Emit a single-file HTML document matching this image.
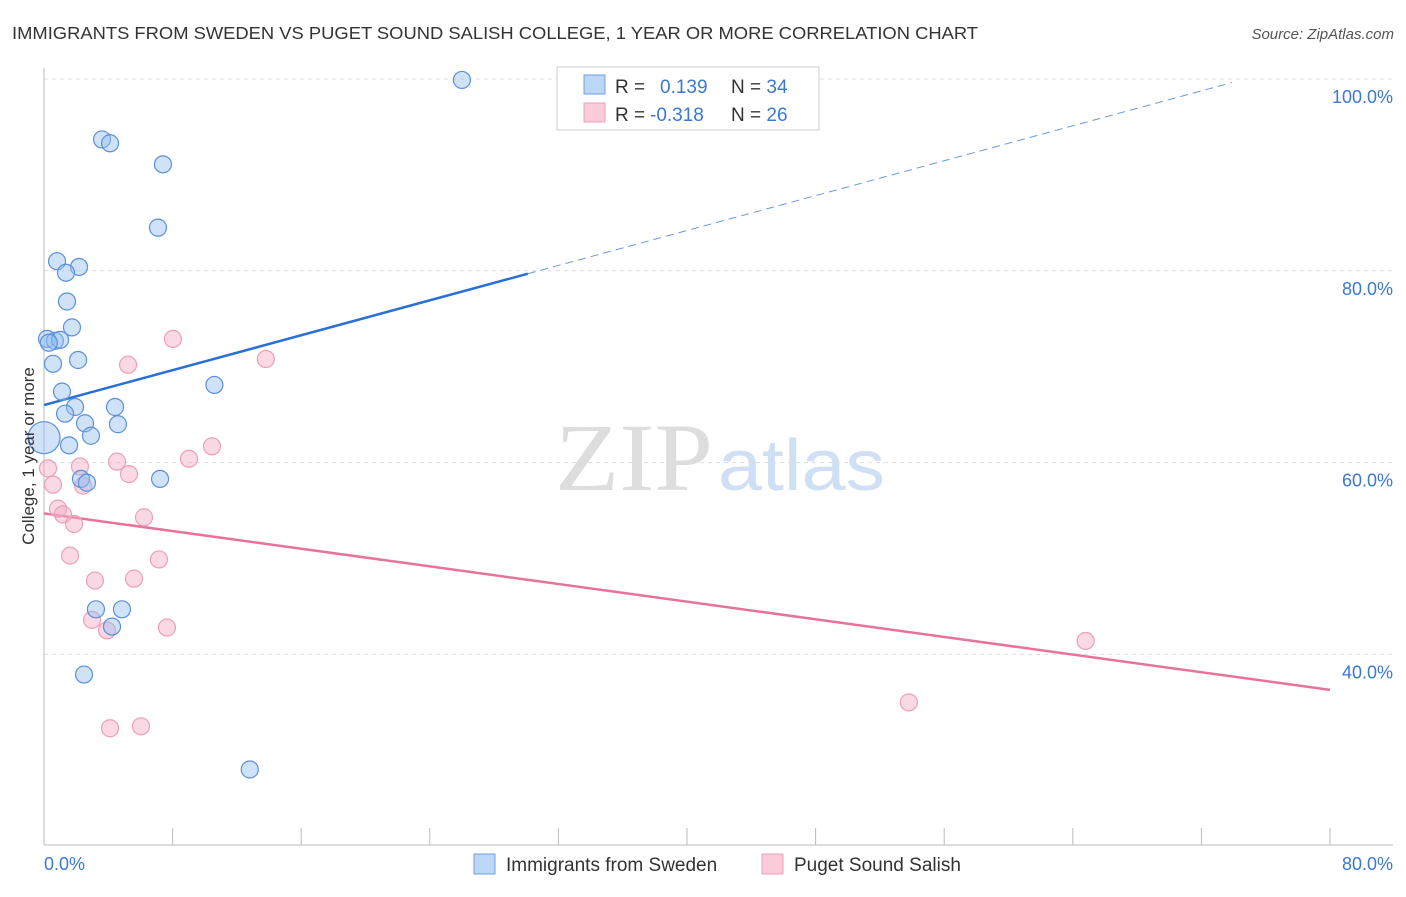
<!DOCTYPE html>
<html><head><meta charset="utf-8"><style>
body{margin:0;background:#fff;font-family:"Liberation Sans",sans-serif}
</style></head><body>
<svg width="1406" height="892" xmlns="http://www.w3.org/2000/svg" style="font-family:'Liberation Sans',sans-serif">
<text x="12" y="39" font-size="17.5" fill="#333" textLength="966" lengthAdjust="spacingAndGlyphs">IMMIGRANTS FROM SWEDEN VS PUGET SOUND SALISH COLLEGE, 1 YEAR OR MORE CORRELATION CHART</text>
<text x="1394" y="39" font-size="15" fill="#555" font-style="italic" text-anchor="end">Source: ZipAtlas.com</text>
<text x="555" y="490" font-size="96" fill="#ddd" textLength="158" lengthAdjust="spacingAndGlyphs" font-family="Liberation Serif,serif">ZIP</text>
<text x="718" y="490" font-size="72" fill="#cfe0f4" textLength="167" lengthAdjust="spacingAndGlyphs">atlas</text>
<g id="grid"></g><g id="axes"></g><g id="trend"></g><g id="pts"></g>
<text transform="translate(34,456) rotate(-90)" font-size="17" fill="#333" text-anchor="middle">College, 1 year or more</text>
<g>
<rect x="557" y="67" width="262" height="63" fill="#fff" stroke="#ccc"/>
<rect x="584" y="75" width="21" height="19" fill="#bcd6f5" stroke="#6fa0e0"/>
<rect x="584" y="103" width="21" height="19" fill="#fbcbd9" stroke="#eba0b8"/>
<text x="615" y="93" font-size="19" fill="#333">R = <tspan fill="#3a78d4" x="660">0.139</tspan><tspan fill="#333" x="731">N = </tspan><tspan fill="#3a78d4">34</tspan></text>
<text x="615" y="121" font-size="19" fill="#333">R = <tspan fill="#3a78d4" x="650">-0.318</tspan><tspan fill="#333" x="731">N = </tspan><tspan fill="#3a78d4">26</tspan></text>
</g>
<g>
<rect x="474" y="854" width="21" height="20" fill="#bcd6f5" stroke="#6fa0e0"/>
<text x="506" y="871" font-size="19" fill="#333">Immigrants from Sweden</text>
<rect x="762" y="854" width="21" height="20" fill="#fbcbd9" stroke="#eba0b8"/>
<text x="794" y="871" font-size="19" fill="#333">Puget Sound Salish</text>
</g>
</svg>
<script>
const yTicks=[40,60,80,100];
const yTickLabels=["40.0%","60.0%","80.0%","100.0%"];
const xLabels=["0.0%","80.0%"];
const blueX=[26.0,3.61,4.11,7.40,7.09,0.81,2.18,1.37,1.43,1.74,0.19,0.68,1.00,0.56,2.12,10.6,1.12,1.93,4.42,1.31,2.55,4.60,2.92,1.56,0.0,7.22,2.30,2.67,3.23,4.85,4.23,2.49,12.8,0.3];
const blueY=[99.9,93.7,93.3,91.1,84.5,81.0,80.4,79.8,76.8,74.1,72.9,72.7,72.8,70.3,70.7,68.1,67.4,65.8,65.8,65.1,64.1,64.0,62.8,61.8,62.6,58.3,58.3,57.9,44.7,44.7,42.9,37.9,28.0,72.5];
const blueBig=[24];
const pinkX=[8.02,5.23,13.8,10.45,9.02,4.54,0.25,2.24,5.29,0.56,2.43,0.87,1.18,6.22,1.87,1.62,7.15,3.17,5.60,2.99,3.92,7.65,4.11,6.03,64.8,53.8];
const pinkY=[72.9,70.2,70.8,61.7,60.4,60.1,59.4,59.6,58.8,57.7,57.6,55.2,54.6,54.3,53.6,50.3,49.9,47.7,47.9,43.6,42.5,42.8,32.3,32.5,41.4,35.0];
const blueTrend=[66.0,0.455];
const pinkTrend=[54.7,-0.23];
const NS="http://www.w3.org/2000/svg";
const sx=v=>44+v*1286/80, sy=v=>1038-v*9.59;
function mk(p,t,a){const e=document.createElementNS(NS,t);for(const k in a)e.setAttribute(k,a[k]);document.getElementById(p).appendChild(e);return e;}
yTicks.forEach((t,i)=>{
 const g=mk('grid','line',{x1:44,x2:1393,y1:sy(t),y2:sy(t),stroke:'#ddd','stroke-dasharray':'4,4'});
 
 
 const l=mk('grid','text',{x:1393,y:sy(t)+24,'font-size':18,fill:'#3a78d4','text-anchor':'end'});
 l.textContent=yTickLabels[i];
 
 
});
mk('axes','line',{x1:44,x2:44,y1:68,y2:845,stroke:'#bbb'});
mk('axes','line',{x1:44,x2:1393,y1:845,y2:845,stroke:'#bbb'});
for(let i=1;i<=10;i++){const t=mk('axes','line',{x1:sx(i*8),x2:sx(i*8),y1:828,y2:845,stroke:'#bbb'});
 
 }
[[0,44,'start'],[80,1393,'end']].forEach((d,i)=>{const l=mk('axes','text',{x:d[1],y:870,'font-size':18,fill:'#3a78d4','text-anchor':d[2]});l.textContent=xLabels[i];
 
 });
const bt=x=>blueTrend[0]+blueTrend[1]*x, pt=x=>pinkTrend[0]+pinkTrend[1]*x;
const b1=mk('trend','line',{x1:sx(0),y1:sy(bt(0)),x2:sx(30.1),y2:sy(bt(30.1)),stroke:'#2a6fd6','stroke-width':2.5});


const b2=mk('trend','line',{x1:sx(30.1),y1:sy(bt(30.1)),x2:sx(73.9),y2:sy(bt(73.9)),stroke:'#6a9ae0','stroke-width':1,'stroke-dasharray':'8,5'});


const p1=mk('trend','line',{x1:sx(0),y1:sy(pt(0)),x2:sx(80),y2:sy(pt(80)),stroke:'#e8739a','stroke-width':2.5});


pinkX.forEach((x,i)=>{const c=mk('pts','circle',{cx:sx(x),cy:sy(pinkY[i]),r:8.5,fill:'rgba(245,170,195,0.45)',stroke:'#eba0b8','stroke-width':1.2});
 
 });
blueX.forEach((x,i)=>{const c=mk('pts','circle',{cx:sx(x),cy:sy(blueY[i]),r:blueBig.includes(i)?16:8.5,fill:'rgba(150,190,240,0.45)',stroke:'#5a90dc','stroke-width':1.2});
 
 });
</script>
</body></html>
